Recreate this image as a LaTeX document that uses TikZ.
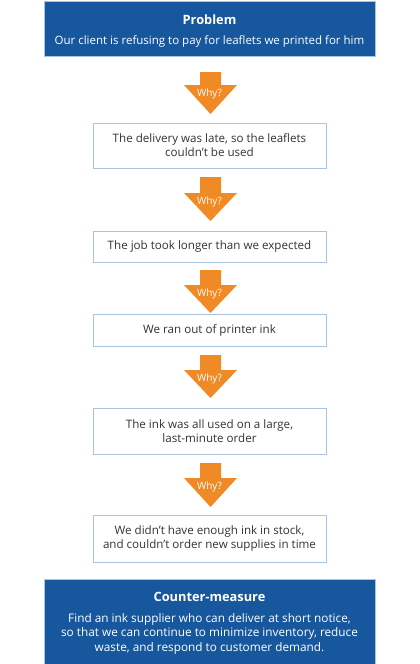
\documentclass[tikz,border=0pt]{standalone}
\usepackage{fontspec}
\setmainfont{Open Sans}
\definecolor{hdrblue}{HTML}{17579E}
\definecolor{whyorange}{HTML}{F08A24}
\definecolor{boxline}{HTML}{A9C4E0}
\definecolor{txt}{HTML}{333333}
\begin{document}
\begin{tikzpicture}[x=1pt,y=-1pt,
  hdr/.style={fill=hdrblue,draw=boxline,line width=0.6pt,minimum width=331pt,inner sep=0pt,text=white,align=center},
  cause/.style={draw=boxline,line width=0.8pt,fill=white,minimum width=233pt,inner sep=0pt,text=txt,align=center,font=\fontsize{11.6}{14}\selectfont},
  hdrtitle/.style={text=white,font=\fontsize{12.8}{14}\bfseries\selectfont,inner sep=0pt},
  whytext/.style={text=white,font=\fontsize{10}{10}\selectfont,inner sep=0pt}]
\useasboundingbox (0,0) rectangle (420,664);
\fill[white] (0,0) rectangle (420,664);
% header
\node[hdr,minimum height=55pt] (prob) at (209.5,28.5) {};
\node[hdrtitle] (probt) at (209.5,20) {Problem};
\node[text=white,font=\fontsize{11.5}{13}\selectfont,inner sep=0pt] (probs) at (209.5,41) {Our client is refusing to pay for leaflets we printed for him};
% causes
\node[cause,minimum height=45pt] (c1) at (209.5,145.5) {The delivery was late, so the leaflets\\couldn't be used};
\node[cause,minimum height=31pt] (c2) at (209.5,246.5) {The job took longer than we expected};
\node[cause,minimum height=32pt] (c3) at (209.5,330) {We ran out of printer ink};
\node[cause,minimum height=46pt] (c4) at (209.5,431) {The ink was all used on a large,\\last-minute order};
\node[cause,minimum height=47pt] (c5) at (209.5,538.5) {We didn't have enough ink in stock,\\and couldn't order new supplies in time};
% counter-measure
\node[hdr,minimum height=85pt] (cm) at (209.5,621.5) {};
\node[hdrtitle] (cmt) at (209.5,597) {Counter-measure};
\node[text=white,align=center,font=\fontsize{11.8}{14.5}\selectfont,inner sep=0pt] (cms) at (209.5,633.5) {Find an ink supplier who can deliver at short notice,\\so that we can continue to minimize inventory, reduce\\waste, and respond to customer demand.};
% why arrows
\foreach \t/\h/\b [count=\i] in {72/85/114, 177/193/221, 270/285/313, 355/370/398, 463/478/507}{
  \fill[whyorange] (200,\t) -- (221,\t) -- (221,\h) -- (237,\h) -- (210.5,\b) -- (184,\h) -- (200,\h) -- cycle;
  \node[whytext] (why\i) at (209.5,{\h+9}) {Why?};
}
\end{tikzpicture}
\end{document}
